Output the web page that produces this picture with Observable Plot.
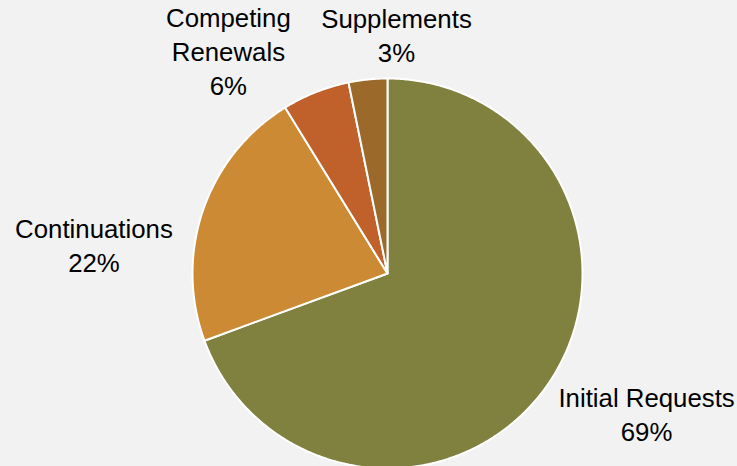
<!DOCTYPE html>
<html><head><meta charset="utf-8">
<script src="https://cdn.jsdelivr.net/npm/d3@7"></script>
<script src="https://cdn.jsdelivr.net/npm/@observablehq/plot@0.6"></script>
<style>html,body{margin:0;padding:0;background:#f2f2f2;} #chart svg{display:block;}</style>
</head><body><div id="chart"></div>
<script>
// ---- data ----
const categories = ["Initial Requests", "Continuations", "Competing Renewals", "Supplements"];
const labelNames = ["Initial Requests", "Continuations", "Competing\nRenewals", "Supplements"];
const shares = [69.4, 21.8, 5.6, 3.2];
const colors = ["#80803F", "#CC8A34", "#C0612B", "#9B6A2A"];

// ---- layout ----
const W = 737, H = 466, CX = 387, CY = 273, R = 195;
// label placement: [angle clockwise from 12 o'clock in degrees, distance in radii]
const labelPolar = [[118.3, 1.509], [275.8, 1.513], [324.5, 1.405], [2.15, 1.229]];

const total = d3.sum(shares);
let acc = 0;
const polys = [];
shares.forEach((v, i) => {
  const a0 = acc / total * 2 * Math.PI;
  acc += v;
  const a1 = acc / total * 2 * Math.PI;
  const n = Math.max(2, Math.ceil((a1 - a0) / (Math.PI / 360)));
  polys.push({cat: categories[i], x: 0, y: 0});
  for (let k = 0; k <= n; k++) {
    const a = a0 + (a1 - a0) * k / n;
    polys.push({cat: categories[i], x: Math.sin(a), y: Math.cos(a)});
  }
  polys.push({cat: categories[i], x: 0, y: 0});
});

const labels = categories.map((c, i) => {
  const a = labelPolar[i][0] * Math.PI / 180, d = labelPolar[i][1];
  return {
    cat: c,
    text: labelNames[i] + "\n" + Math.round(shares[i] / total * 100) + "%",
    x: d * Math.sin(a),
    y: d * Math.cos(a)
  };
});

const chart = Plot.plot({
  width: W, height: H, margin: 0,
  style: {background: "#f2f2f2", fontFamily: "'Liberation Sans', Arial, sans-serif"},
  x: {domain: [-CX / R, (W - CX) / R], axis: null},
  y: {domain: [-(H - CY) / R, CY / R], axis: null},
  color: {domain: categories, range: colors},
  marks: [
    Plot.line(polys, {x: "x", y: "y", z: "cat", fill: "cat", stroke: "white", strokeWidth: 2, strokeLinejoin: "round"}),
    Plot.text(labels, {x: "x", y: "y", text: "text", fontSize: 25.8, lineHeight: 1.318, fill: "#000"})
  ]
});
document.getElementById("chart").append(chart);
</script>
</body></html>
